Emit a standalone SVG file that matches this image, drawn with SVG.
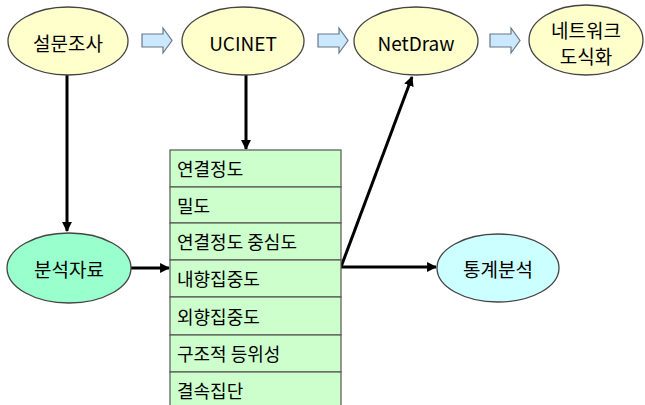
<svg xmlns="http://www.w3.org/2000/svg" width="645" height="405" viewBox="0 0 645 405">
<defs>
<style>
.n{stroke:#444;stroke-width:1.3}
.y{fill:#FFFFCC}
.t{font-family:"Noto Sans CJK KR","Liberation Sans",sans-serif;font-size:19px;fill:#000;text-anchor:middle;dominant-baseline:central}
.r{font-family:"Noto Sans CJK KR","Liberation Sans",sans-serif;font-size:18px;fill:#000;dominant-baseline:central}
.c{stroke:#000;stroke-width:3;fill:none}
.b{fill:#CCE8FF;stroke:#667788;stroke-width:1.2}
.row{fill:#CCFFCC;stroke:#555;stroke-width:1.2}
</style>
<marker id="ah" viewBox="0 0 10 10" refX="9" refY="5" markerWidth="3.3" markerHeight="3.3" orient="auto" markerUnits="strokeWidth">
<path d="M0,0 L10,5 L0,10 z" fill="#000"/>
</marker>
<path id="blk" d="M0,6 H21 V0 L30,12.5 L21,25 V19 H0 z"/>
</defs>
<g id="connectors">
<use href="#blk" class="b" x="142" y="28"/>
<use href="#blk" class="b" x="318" y="28"/>
<use href="#blk" class="b" x="490" y="28"/>
<line class="c" x1="67" y1="75" x2="67" y2="231" marker-end="url(#ah)"/>
<line class="c" x1="246" y1="75" x2="246" y2="149" marker-end="url(#ah)"/>
<line class="c" x1="131" y1="268" x2="169" y2="268" marker-end="url(#ah)"/>
<line class="c" x1="341" y1="267" x2="436" y2="267" marker-end="url(#ah)"/>
<line class="c" x1="341" y1="267" x2="412" y2="77" marker-end="url(#ah)"/>
</g>
<g id="n1"><ellipse class="n y" cx="68" cy="41" rx="60" ry="34"/><text class="t" x="68" y="42">설문조사</text></g>
<g id="n2"><ellipse class="n y" cx="243" cy="41" rx="61" ry="34"/><text class="t" x="243" y="42">UCINET</text></g>
<g id="n3"><ellipse class="n y" cx="416" cy="41" rx="62" ry="34"/><text class="t" x="416" y="42">NetDraw</text></g>
<g id="n4"><ellipse class="n y" cx="586" cy="40" rx="57" ry="35"/><text class="t" x="586" y="29">네트워크</text><text class="t" x="586" y="55">도식화</text></g>
<g id="n5"><ellipse class="n" fill="#99FFCC" cx="69" cy="268" rx="62" ry="35"/><text class="t" x="69" y="268">분석자료</text></g>
<g id="n6"><ellipse class="n" fill="#CCFFFF" cx="498" cy="268" rx="61" ry="34"/><text class="t" x="498" y="268">통계분석</text></g>
<g id="table">
<rect class="row" x="170" y="150" width="171" height="37"/>
<rect class="row" x="170" y="187" width="171" height="36"/>
<rect class="row" x="170" y="223" width="171" height="37"/>
<rect class="row" x="170" y="260" width="171" height="37"/>
<rect class="row" x="170" y="297" width="171" height="38"/>
<rect class="row" x="170" y="335" width="171" height="37"/>
<rect class="row" x="170" y="372" width="171" height="40"/>
<text class="r" x="177" y="168">연결정도</text>
<text class="r" x="177" y="205">밀도</text>
<text class="r" x="177" y="241">연결정도 중심도</text>
<text class="r" x="177" y="278">내향집중도</text>
<text class="r" x="177" y="316">외향집중도</text>
<text class="r" x="177" y="353">구조적 등위성</text>
<text class="r" x="177" y="390">결속집단</text>
</g>
</svg>
